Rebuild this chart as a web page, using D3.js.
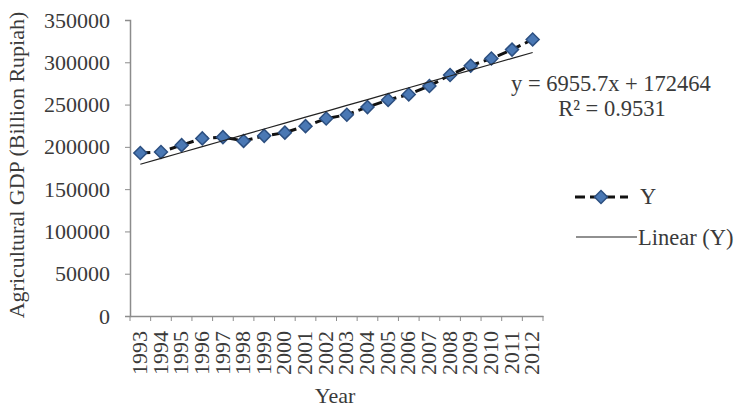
<!DOCTYPE html>
<html><head><meta charset="utf-8">
<script src="https://cdn.jsdelivr.net/npm/d3@7"></script>
<style>body{margin:0;background:#fff}svg{display:block}text{font-family:"Liberation Serif","Times New Roman",serif;fill:#3a3a3a}</style>
</head><body><svg id="c" width="742" height="407"></svg>
<script>
const years = ["1993","1994","1995","1996","1997","1998","1999","2000","2001","2002","2003","2004","2005","2006","2007","2008","2009","2010","2011","2012"];
const gdp = [192700,194000,202000,210000,211500,207000,213000,216800,224500,233500,238000,247000,255500,262000,272000,285000,296000,304500,315000,327000];
const yTicks = [0,50000,100000,150000,200000,250000,300000,350000];
const trendSlope = 6955.7, trendIntercept = 172464, r2 = 0.9531;
const seriesName = "Y", trendName = "Linear (Y)";
const xTitle = "Year", yTitle = "Agricultural GDP (Billion Rupiah)";

const svg = d3.select("#c");
const m = {l:130, r:199, t:20, b:91};
const W = 742, H = 407;
const x = d3.scaleBand().domain(years).range([m.l, W - m.r]);
const y = d3.scaleLinear().domain([0,350000]).range([H - m.b, m.t]);
const axisCol = "#8c8c8c";
const FS = 22;

// y axis
const ya = svg.append("g").attr("transform",`translate(${m.l},0)`)
  .call(d3.axisLeft(y).tickValues(yTicks).tickSize(5).tickPadding(15).tickFormat(d3.format("d")));
ya.select(".domain").attr("stroke",axisCol).attr("stroke-width",1.5);
ya.selectAll(".tick line").attr("stroke",axisCol);
ya.selectAll("text").attr("font-size",FS).style("font-family","Liberation Serif").attr("fill","#3a3a3a");

// x axis
const xa = svg.append("g").attr("transform",`translate(0,${H-m.b})`)
  .call(d3.axisBottom(x).tickSize(0).tickPadding(0));
xa.select(".domain").attr("stroke",axisCol).attr("stroke-width",1.5);
xa.selectAll(".tick line").remove();
xa.selectAll("text").attr("font-size",FS).style("font-family","Liberation Serif").attr("fill","#3a3a3a")
  .attr("transform","rotate(-90)").attr("text-anchor","end").attr("dy","0.3em").attr("x",-15).attr("y",0);
// category boundary ticks
const bounds = years.map(d=>x(d)).concat([x(years[years.length-1])+x.bandwidth()]);
svg.append("g").selectAll("line").data(bounds).join("line")
  .attr("x1",d=>d).attr("x2",d=>d).attr("y1",H-m.b).attr("y2",H-m.b+5)
  .attr("stroke",axisCol);

const cx = d => x(d) + x.bandwidth()/2;

// series dashed line
const line = d3.line().x((d,i)=>cx(years[i])).y(d=>y(d));
svg.append("path").datum(gdp).attr("d",line).attr("fill","none")
  .attr("stroke","#111").attr("stroke-width",3).attr("stroke-dasharray","10,5");

// markers
const diamond = d3.symbol(d3.symbolSquare, 84);
svg.append("g").selectAll("path").data(gdp).join("path")
  .attr("d",diamond)
  .attr("transform",(d,i)=>`translate(${cx(years[i])},${y(d)}) rotate(45)`)
  .attr("fill","#4a78b4").attr("stroke","#2c4f80").attr("stroke-width",1.5);

// trendline
const trend = years.map((d,i)=>trendIntercept + trendSlope*(i+1));
svg.append("path").datum(trend).attr("d",line).attr("fill","none")
  .attr("stroke","#222").attr("stroke-width",1.2);

// equation
svg.append("text").attr("x",611).attr("y",91).attr("text-anchor","middle").attr("font-size",22.5)
  .text(`y = ${trendSlope}x + ${trendIntercept}`);
svg.append("text").attr("x",612).attr("y",116).attr("text-anchor","middle").attr("font-size",22.5)
  .text(`R² = ${r2}`);

// legend
const lg = svg.append("g");
lg.append("line").attr("x1",575).attr("x2",628).attr("y1",197).attr("y2",197)
  .attr("stroke","#111").attr("stroke-width",3).attr("stroke-dasharray","10,5");
lg.append("path").attr("d",diamond).attr("transform","translate(601,197) rotate(45)")
  .attr("fill","#4a78b4").attr("stroke","#2c4f80").attr("stroke-width",1.5);
lg.append("text").attr("x",640).attr("y",204).attr("font-size",22.5).text(seriesName);
lg.append("line").attr("x1",576).attr("x2",637).attr("y1",237).attr("y2",237)
  .attr("stroke","#222").attr("stroke-width",1.2);
lg.append("text").attr("x",638).attr("y",245).attr("font-size",22.5).text(trendName);

// axis titles
svg.append("text").attr("x",335).attr("y",403).attr("text-anchor","middle").attr("font-size",FS).text(xTitle);
svg.append("text").attr("transform","translate(24,165) rotate(-90)").attr("text-anchor","middle").attr("font-size",FS).text(yTitle);
</script></body></html>
